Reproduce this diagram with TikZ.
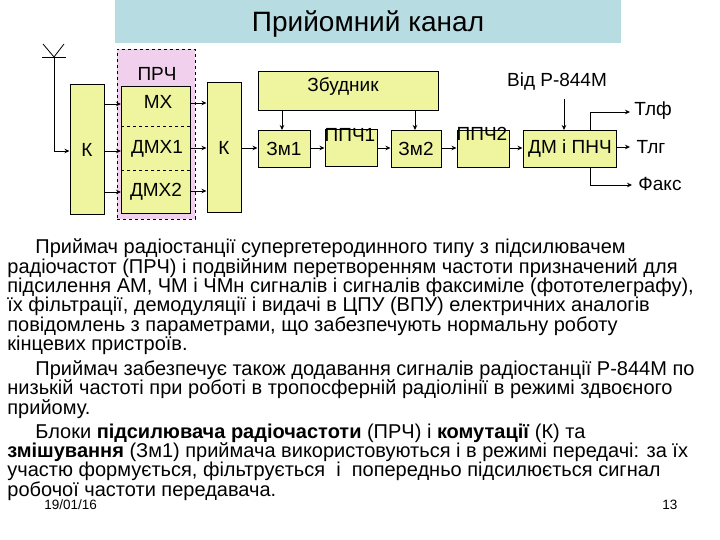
\documentclass[tikz,border=0pt]{standalone}
\usepackage{fontspec}
\setmainfont{Liberation Sans}
\usetikzlibrary{arrows.meta}
\definecolor{boxfill}{RGB}{238,245,158}
\definecolor{titlefill}{RGB}{183,221,226}
\definecolor{pinkfill}{RGB}{240,208,236}
\tikzset{
  block/.style={draw, fill=boxfill, line width=1pt, inner sep=0pt, font=\fontsize{19}{19}\selectfont},
  tag/.style={inner sep=0pt, font=\fontsize{19}{19}\selectfont},
  para/.style={inner sep=0pt, anchor=base west, font=\fontsize{20}{20}\selectfont},
  foot/.style={inner sep=0pt, anchor=base west, font=\fontsize{13.5}{13.5}\selectfont}
}
\begin{document}
\begin{tikzpicture}[x=1pt, y=-1pt, >={Stealth[length=5pt,width=4.5pt]}, line width=0.8pt]
  \useasboundingbox (0,0) rectangle (720,540);
  \fill[white] (0,0) rectangle (720,540);
  % title
  \node[fill=titlefill, minimum width=506pt, minimum height=43pt, inner sep=0pt] (title) at (368,21.5) {};
  \node[inner sep=0pt, font=\fontsize{28}{28}\selectfont] (titletext) at (368,24) {Прийомний канал};
  % PRCh frame
  \node[draw, dashed, fill=pinkfill, minimum width=78pt, minimum height=170pt, inner sep=0pt] (prch) at (156,134) {};
  \node[tag] (prchtext) at (157,74) {ПРЧ};
  % blocks
  \node[block, minimum width=34pt, minimum height=130pt] (kin) at (87,149.5) {К};
  \node[block, minimum width=69pt, minimum height=127pt] (mix) at (156,150) {};
  \node[tag] (mx) at (158,102) {МХ};
  \node[tag] (dmx1) at (157,149) {ДМХ1};
  \node[tag] (dmx2) at (156,192) {ДМХ2};
  \node[block, minimum width=34pt, minimum height=130pt] (kout) at (224,147.5) {К};
  \node[block, minimum width=180pt, minimum height=39pt] (exc) at (348,91) {};
  \node[tag] (exctext) at (343,87) {Збудник};
  \node[block, minimum width=52pt, minimum height=37pt] (zm1) at (284,149) {Зм1};
  \node[block, minimum width=52pt, minimum height=37pt] (ppch1) at (351,148) {};
  \node[tag] (ppch1text) at (350,135) {ППЧ1};
  \node[block, minimum width=50pt, minimum height=37pt] (zm2) at (416,149) {Зм2};
  \node[block, minimum width=52pt, minimum height=37pt] (ppch2) at (483,149) {};
  \node[tag] (ppch2text) at (482,134) {ППЧ2};
  \node[block, minimum width=93pt, minimum height=37pt] (dm) at (569.5,149) {};
  \node[tag] (dmtext) at (570,149) {ДМ і ПНЧ};
  \node[tag] (from) at (557,82) {Від Р-844М};
  \node[tag] (tlf) at (653,111) {Тлф};
  \node[tag] (tlg) at (651,147) {Тлг};
  \node[tag] (fax) at (660,184) {Факс};
  % inner dashes
  \draw[dashed] (mix.west |- 0,126) -- (mix.east |- 0,126);
  \draw[dashed] (mix.west |- 0,170) -- (mix.east |- 0,170);
  % antenna
  \coordinate (ant) at (54,57);
  \draw (43,44) -- (ant) -- (64,44);
  \draw (42,57) -- (66,57);
  \draw[->] (ant) |- (kin.west |- 0,151);
  % connectors
  \foreach \y in {104,151,192}
    \draw[->] (kin.east |- 0,\y) -- (mix.west |- 0,\y);
  \foreach \y in {103,148,191}
    \draw[->] (mix.east |- 0,\y) -- (kout.west |- 0,\y);
  \draw[->] (kout.east |- 0,148) -- (zm1.west |- 0,148);
  \draw[->] (zm1.east |- 0,148) -- (ppch1.west |- 0,148);
  \draw[->] (ppch1.east |- 0,148) -- (zm2.west |- 0,148);
  \draw[->] (zm2.east |- 0,148) -- (ppch2.west |- 0,148);
  \draw[->] (ppch2.east |- 0,148) -- (dm.west |- 0,148);
  \draw[->] (exc.south -| 282,0) -- (zm1.north -| 282,0);
  \draw[->] (exc.south -| 415,0) -- (zm2.north -| 415,0);
  \draw[->] (564,99) -- (dm.north -| 564,0);
  \coordinate (tlfend) at (630,112);
  \coordinate (faxend) at (632,185);
  \draw[->] (dm.north -| 590,0) |- (tlfend);
  \draw[->] (dm.east |- 0,147) -- (630,147);
  \draw[->] (dm.south -| 590,0) |- (faxend);
  % text
  \node[para] (l1) at (35,254) {Приймач радіостанції супергетеродинного типу з підсилювачем};
  \node[para] (l2) at (7,273) {радіочастот (ПРЧ) і подвійним перетворенням частоти призначений для};
  \node[para] (l3) at (7,292) {підсилення АМ, ЧМ і ЧМн сигналів і сигналів факсиміле (фототелеграфу),};
  \node[para] (l4) at (7,311) {їх фільтрації, демодуляції і видачі в ЦПУ (ВПУ) електричних аналогів};
  \node[para] (l5) at (7,331) {повідомлень з параметрами, що забезпечують нормальну роботу};
  \node[para] (l6) at (7,350) {кінцевих пристроїв.};
  \node[para] (l7) at (35,375) {Приймач забезпечує також додавання сигналів радіостанції Р-844М по};
  \node[para] (l8) at (7,394) {низькій частоті при роботі в тропосферній радіолінії в режимі здвоєного};
  \node[para] (l9) at (7,414) {прийому.};
  \node[para] (l10) at (35,438) {Блоки \textbf{підсилювача радіочастоти} (ПРЧ) і \textbf{комутації} (К) та};
  \node[para] (l11) at (7,457) {\textbf{змішування} (Зм1) приймача використовуються і в режимі передачі: за їх};
  \node[para] (l12) at (7,476) {участю формується, фільтрується\ \ і\ \ попередньо підсилюється сигнал};
  \node[para] (l13) at (7,496) {робочої частоти передавача.};
  \node[foot] (date) at (44,509) {19/01/16};
  \node[foot] (page) at (662,509) {13};
\end{tikzpicture}
\end{document}
